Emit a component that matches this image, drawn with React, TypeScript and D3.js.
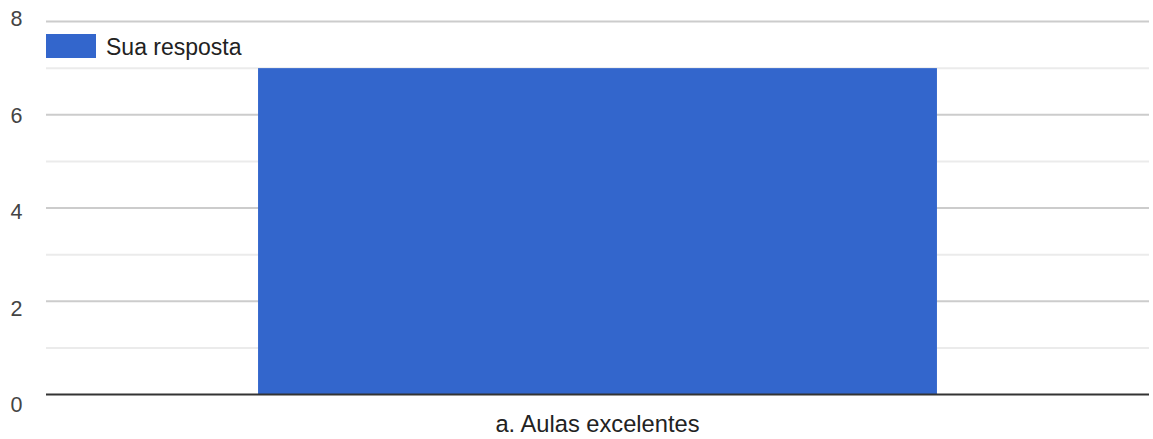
import React from "react";
import * as d3 from "d3";

const categories = ["a. Aulas excelentes"];
const values = [7];
const seriesName = "Sua resposta";
const yTicks = [0, 2, 4, 6, 8];
const yMinor = [1, 3, 5, 7];

const W = 1153;
const H = 439;
const left = 46;
const right = 1149;
const top = 21.5;
const bottom = 394.5;

export default function App() {
  const x = d3.scaleBand<string>().domain(categories).range([left, right]).padding(0.238);
  const y = d3.scaleLinear().domain([0, 8]).range([bottom, top]);
  const yLab = d3.scaleLinear().domain([0, 8]).range([405, 19]);
  const font = "Arial, 'Liberation Sans', sans-serif";
  return (
    <svg width={W} height={H} style={{ position: "absolute", left: 0, top: 0, background: "#fff" }} fontFamily={font}>
      {yMinor.map((t) => (
        <line key={"m" + t} x1={left} x2={right} y1={y(t)} y2={y(t)} stroke="#ebebeb" strokeWidth={2} />
      ))}
      {yTicks.filter((t) => t !== 0).map((t) => (
        <line key={"g" + t} x1={left} x2={right} y1={y(t)} y2={y(t)} stroke="#cccccc" strokeWidth={2} />
      ))}
      {yTicks.map((t) => (
        <text key={"l" + t} x={22.5} y={yLab(t)} textAnchor="end" dominantBaseline="central" fontSize={21.5} fill="#444">
          {t}
        </text>
      ))}
      {categories.map((c, i) => (
        <rect key={c} x={x(c)} y={y(values[i])} width={x.bandwidth()} height={y(0) - y(values[i])} fill="#3366cc" />
      ))}
      <line x1={left} x2={right} y1={y(0)} y2={y(0)} stroke="#333" strokeWidth={2} />
      {categories.map((c) => (
        <text key={"x" + c} x={(x(c) as number) + x.bandwidth() / 2} y={424} textAnchor="middle" dominantBaseline="central" fontSize={23.7} fill="#222">
          {c}
        </text>
      ))}
      <g>
        <rect x={46} y={34} width={50} height={24} fill="#3366cc" />
        <text x={106} y={47} dominantBaseline="central" fontSize={23} fill="#222">
          {seriesName}
        </text>
      </g>
    </svg>
  );
}
